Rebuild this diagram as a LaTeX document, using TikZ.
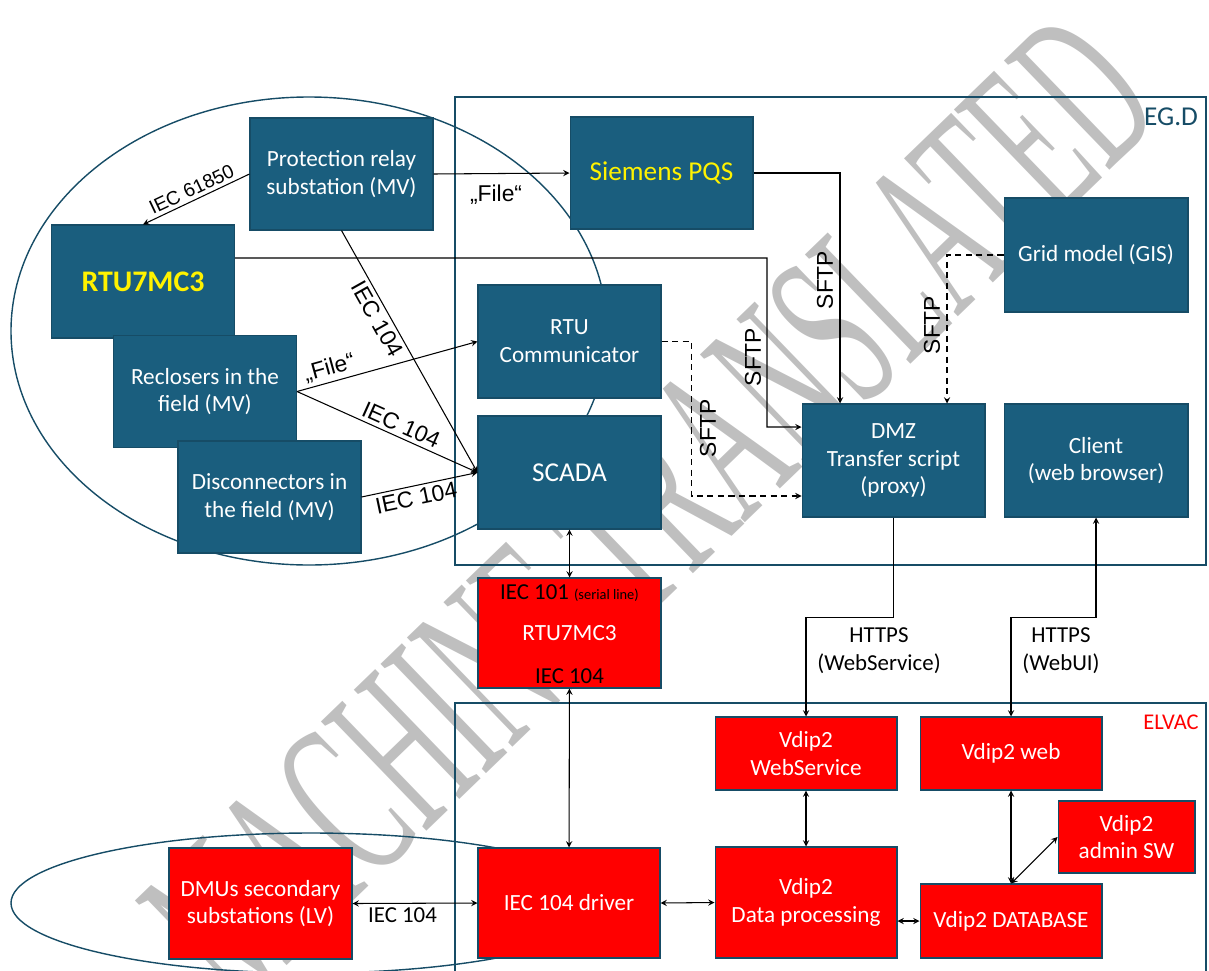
\documentclass[tikz,border=0pt]{standalone}
\usepackage{fontspec}
\setmainfont{Carlito}
\newfontfamily\arialfont{Liberation Sans}
\newfontfamily\wmfont{Liberation Serif}
\usepackage{tikz}
\usetikzlibrary{shapes.geometric, arrows}
\definecolor{egdteal}{RGB}{26,94,126}
\definecolor{egdline}{RGB}{22,76,102}
\definecolor{elvacred}{RGB}{255,0,0}
\tikzstyle{tealbox} = [rectangle, minimum width=3.66cm, minimum height=2.24cm, text centered, align=center, draw=egdline, fill=egdteal, text=white, line width=0.6pt, inner sep=1pt, font=\fontsize{13.2}{15.8}\selectfont]
\tikzstyle{redbox} = [tealbox, fill=elvacred]
\tikzstyle{frame} = [draw=egdline, line width=0.9pt]
\tikzstyle{arrow} = [semithick,->,>=stealth]
\tikzstyle{arrowboth} = [semithick,<->,>=stealth]
\tikzstyle{dashedarrow} = [semithick,->,>=stealth,dash pattern=on 3.5pt off 2.5pt]
\tikzstyle{lbl} = [inner sep=2pt, font=\arialfont\fontsize{13}{15}\selectfont]
\tikzstyle{clbl} = [inner sep=2pt, align=center, font=\fontsize{13}{16}\selectfont]

\begin{document}
\begin{tikzpicture}[x=0.02cm, y=-0.02cm]
  \useasboundingbox (0,0) rectangle (1209,970);
  \clip (0,0) rectangle (1209,970);

  % watermark
  \node (watermark) [rotate=44, xscale=0.49, transform shape, text=gray!50, font=\wmfont\fontsize{132}{132}\selectfont] at (650,510) {MACHINE TRANSLATED};

  % company frames
  \draw [frame] (455,97) rectangle (1206,565);
  \draw [frame] (455,703) rectangle (1206,1000);
  \node (egd) [text=egdline, font=\fontsize{15.5}{18}\selectfont] at (1171,117) {EG.D};
  \node (elvac) [text=elvacred, font=\fontsize{12.8}{15}\selectfont] at (1171,722) {ELVAC};

  % field areas
  \draw [egdline, line width=0.8pt] (309,331) ellipse [x radius=298, y radius=234];
  \draw [egdline, line width=0.8pt] (311,903) ellipse [x radius=300, y radius=70];

  % MV field devices
  \node (prot) [tealbox] at (341.5,174) {Protection relay\\substation (MV)};
  \node (rtuy) [tealbox, minimum height=2.26cm, text=yellow, font=\bfseries\fontsize{17}{19}\selectfont] at (143,281.5) {RTU7MC3};
  \node (recl) [tealbox] at (205,391.5) {Reclosers in the\\field (MV)};
  \node (disc) [tealbox] at (269.5,497) {Disconnectors in\\the field (MV)};

  % EG.D systems
  \node (pqs) [tealbox, text=yellow, font=\fontsize{15.5}{17}\selectfont] at (661.5,173) {Siemens PQS};
  \node (grid) [tealbox, minimum width=3.68cm, minimum height=2.28cm] at (1096,255) {Grid model (GIS)};
  \node (rtuc) [tealbox, minimum height=2.26cm] at (569.5,341.5) {RTU\\Communicator};
  \node (scada) [tealbox, minimum height=2.26cm, font=\fontsize{15.5}{17}\selectfont] at (569.5,472.5) {SCADA};
  \node (dmz) [tealbox, minimum height=2.26cm] at (893.5,460.5) {DMZ\\Transfer script\\(proxy)};
  \node (client) [tealbox, minimum width=3.68cm, minimum height=2.26cm] at (1096,460.5) {Client\\(web browser)};

  % RTU between both
  \node (rtured) [redbox, minimum height=2.2cm] at (569.5,633) {RTU7MC3};
  \node (rtutop) [clbl, text=black] at (569.5,593) {IEC 101 {\fontsize{8.2}{9}\selectfont (serial line)}};
  \node (rtubot) [clbl, text=black] at (569.5,676) {IEC 104};

  % ELVAC systems
  \node (ws) [redbox, minimum width=3.64cm, minimum height=1.46cm] at (806,753.5) {Vdip2\\WebService};
  \node (web) [redbox, minimum width=3.64cm, minimum height=1.46cm] at (1011,753.5) {Vdip2 web};
  \node (admin) [redbox, minimum width=2.74cm, minimum height=1.44cm] at (1126.5,837) {Vdip2\\admin SW};
  \node (dp) [redbox, minimum width=3.64cm, minimum height=2.22cm] at (806,902.5) {Vdip2\\Data processing};
  \node (db) [redbox, minimum width=3.64cm, minimum height=1.48cm] at (1011,921) {Vdip2 DATABASE};
  \node (driver) [redbox, minimum width=3.64cm, minimum height=2.2cm] at (569,903) {IEC 104 driver};
  \node (dmu) [redbox, minimum height=2.22cm] at (260.5,903.5) {DMUs secondary\\substations (LV)};

  % field links
  \draw [arrow] (prot.west) -- node (l61850) [lbl, sloped, above, font=\arialfont\fontsize{11}{13}\selectfont] {IEC 61850} (rtuy.north);
  \draw [arrow] (prot.east) -- node (lfile1) [lbl, below=4pt, pos=0.46] {„File“} (pqs.west);
  \draw [arrow] (prot.south) -- node (l104a) [lbl, sloped, below, pos=0.34] {IEC 104} (scada.west);
  \draw [arrow] (recl.east) -- node (lfile2) [lbl, sloped, above, pos=0.2] {„File“} (rtuc.west);
  \draw [arrow] (recl.east) -- node (l104b) [lbl, sloped, above, pos=0.55] {IEC 104} (scada.west);
  \draw [arrow] (disc.east) -- node (l104c) [lbl, sloped, below, pos=0.45] {IEC 104} (scada.west);

  % SFTP transfers to the DMZ
  \draw [arrow] ([yshift=0.47cm]rtuy.east) -- (767,258) |- ([yshift=0.67cm]dmz.west);
  \draw [arrow] (pqs.east) -| ([xshift=-1.07cm]dmz.north);
  \draw [dashedarrow] (grid.west) -| ([xshift=1.07cm]dmz.north);
  \draw [dashedarrow] (rtuc.east) -- ++(30,0) |- ([yshift=-0.71cm]dmz.west);
  \node (sftp1) [lbl, rotate=90] at (825,280) {SFTP};
  \node (sftp2) [lbl, rotate=90] at (932,325) {SFTP};
  \node (sftp3) [lbl, rotate=90] at (753,357) {SFTP};
  \node (sftp4) [lbl, rotate=90] at (708,428) {SFTP};

  % RTU chain
  \draw [arrowboth] (scada) -- (rtured);
  \draw [arrowboth] (rtured) -- (driver);

  % HTTPS links
  \draw [arrow] (dmz.south) -- ++(0,100) -| (ws.north);
  \draw [arrowboth] (client.south) -- ++(0,100) -| (web.north);
  \node (httpsws) [clbl] at (879,651) {HTTPS\\(WebService)};
  \node (httpsui) [clbl] at (1061,651) {HTTPS\\(WebUI)};

  % ELVAC internals
  \draw [arrowboth] (ws) -- (dp);
  \draw [arrowboth] (web) -- (db);
  \draw [arrowboth] (admin.west) -- (db.north);
  \draw [arrowboth] (driver.east) -- (dp.west);
  \draw [arrowboth] (db.west -| dp.east) -- (db.west);
  \draw [arrowboth] (dmu.east) -- node (l104d) [clbl, below, pos=0.4] {IEC 104} (driver.west);
\end{tikzpicture}
\end{document}
